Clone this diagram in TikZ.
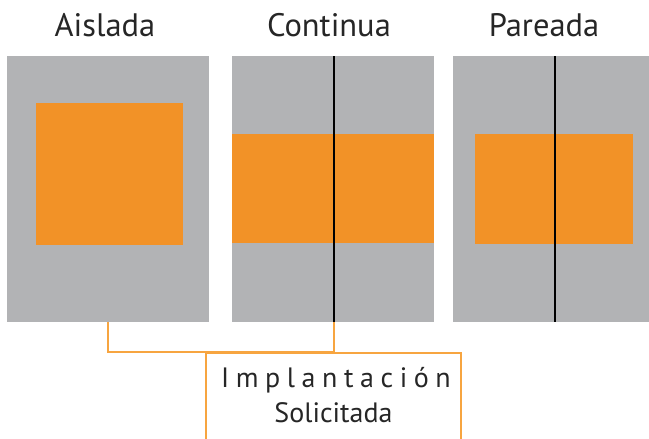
\documentclass[tikz,border=0pt]{standalone}
\usepackage{fontspec}
\setmainfont{PT Sans}
\usepackage{tikz}
\usepackage{xcolor}
\usetikzlibrary{positioning}
\definecolor{gris}{HTML}{B2B3B5}
\definecolor{naranja}{HTML}{F29227}
\definecolor{linea}{HTML}{F7A540}

\begin{document}
\begin{tikzpicture}[x=1pt,y=-1pt,
        lote/.style={fill=gris, inner sep=0pt, outer sep=0pt},
        casa/.style={fill=naranja, inner sep=0pt, outer sep=0pt},
        muro/.style={black, line width=2pt},
        enlace/.style={linea, line width=2pt},
        titulo/.style={font=\fontsize{32.5}{32.5}\selectfont, inner sep=0pt, anchor=base, text=black!85},
        etiqueta/.style={font=\fontsize{28}{28}\selectfont, inner sep=0pt, anchor=base, text=black!85}]
                \useasboundingbox (0,0) rectangle (649,439);
                \node[lote, minimum width=202pt, minimum height=266pt] (a) at (108,189) {};
                \node[lote, minimum width=202pt, minimum height=266pt] (b) at (333,189) {};
                \node[lote, minimum width=196pt, minimum height=266pt] (c) at (551,189) {};
                \node[casa, minimum width=147pt, minimum height=142pt] (ca) at (109.5,174) {};
                \node[casa, minimum width=202pt, minimum height=109pt] (cb) at (333,188.5) {};
                \node[casa, minimum width=158pt, minimum height=110pt] (cc) at (554,189) {};
                \draw[muro] ([xshift=1pt]b.north) -- ([xshift=1pt]b.south);
                \draw[muro] ([xshift=4pt]c.north) -- ([xshift=4pt]c.south);
                \node[titulo] (ta) at (105,37) {Aislada};
                \node[titulo] (tb) at (329,37) {Continua};
                \node[titulo] (tc) at (544,37) {Pareada};
                \coordinate (j) at (108,352);
                \draw[enlace] (a.south) -- (j) -| ([xshift=1pt]b.south);
                \coordinate (p1) at (206,439);
                \coordinate (p2) at (461,439);
                \draw[enlace] (p1) |- (333,352.5) -| (p2);
                \node[etiqueta] (imp) at (336,387) {\addfontfeature{LetterSpace=23.5}Implantación};
                \node[etiqueta] (sol) at (333.5,422) {Solicitada};
            \end{tikzpicture}
\end{document}
